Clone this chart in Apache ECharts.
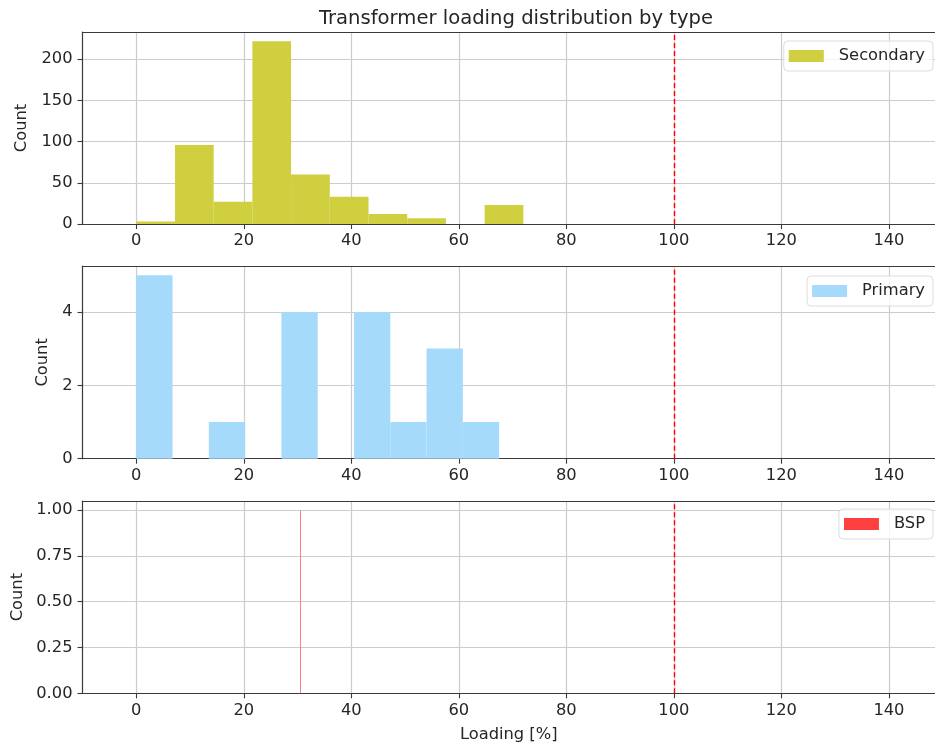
<!DOCTYPE html>
<html>
<head>
<meta charset="utf-8">
<script src="https://cdn.jsdelivr.net/npm/echarts@6/dist/echarts.min.js"></script>
<style>
html,body{margin:0;padding:0;background:#fff;}
#chart{width:935px;height:749px;}
</style>
</head>
<body>
<div id="chart"></div>
<script>
// ---- Data ----
const chartTitle = 'Transformer loading distribution by type';
const xAxisName = 'Loading [%]';
const yAxisName = 'Count';
const threshold = 100;

const secondaryEdges = [0, 7.2, 14.4, 21.6, 28.8, 36.0, 43.2, 50.4, 57.6, 64.8, 72.0];
const secondaryCounts = [3, 96, 27, 222, 60, 33, 12, 7, 0, 23];

const primaryEdges = [0, 6.75, 13.5, 20.25, 27.0, 33.75, 40.5, 47.25, 54.0, 60.75, 67.5];
const primaryCounts = [5, 0, 1, 0, 4, 0, 4, 1, 3, 1];

const bspEdges = [30.55, 30.65];
const bspCounts = [1];

const xTicks = [0, 20, 40, 60, 80, 100, 120, 140];
const yTicksSecondary = [0, 50, 100, 150, 200];
const yTicksPrimary = [0, 2, 4];
const yTicksBsp = [0, 0.25, 0.5, 0.75, 1.0];

const panelNames = ['Secondary', 'Primary', 'BSP'];
const panelColors = ['#cfcf40', '#a5dafb', '#ff4040'];

// ---- Build ----
function bins(edges, counts) {
  const out = [];
  for (let i = 0; i < counts.length; i++) out.push([edges[i], edges[i + 1], counts[i]]);
  return out;
}
const panelData = [
  bins(secondaryEdges, secondaryCounts),
  bins(primaryEdges, primaryCounts),
  bins(bspEdges, bspCounts)
];
const yMaxes = [Math.max(...secondaryCounts) * 1.05, Math.max(...primaryCounts) * 1.05, Math.max(...bspCounts) * 1.05];
const yTickSets = [yTicksSecondary, yTicksPrimary, yTicksBsp];
const yFormatters = [v => String(v), v => String(v), v => v.toFixed(2)];

const FONT = 'DejaVu Sans';
const FS = 16.3;
const TXT = '#262626';
const SPINE = '#3a3a3a';
const GRIDC = '#cccccc';
const X_MIN = -10, X_MAX = 148.57;

const grids = [
  {left: 82.5, right: 0, top: 32, height: 192},
  {left: 82.5, right: 0, top: 266, height: 192.7},
  {left: 82.5, right: 0, top: 501, height: 192.3}
].map(g => Object.assign(g, {show: false, containLabel: false}));

const nameGaps = [53, 29, 57];
const legendTops = [41, 276, 509];

const xAxes = [];
grids.forEach((g, i) => {
  xAxes.push({
    type: 'value', gridIndex: i, min: X_MIN, max: X_MAX, position: 'bottom',
    name: i === 2 ? xAxisName : '',
    nameLocation: 'middle', nameGap: 33,
    nameTextStyle: {fontFamily: FONT, fontSize: FS, color: TXT},
    axisLine: {show: true, onZero: false, lineStyle: {color: SPINE, width: 1.2}},
    axisTick: {show: true, length: 5, customValues: xTicks, lineStyle: {color: SPINE, width: 1.1}},
    axisLabel: {show: true, customValues: xTicks, margin: 9, fontFamily: FONT, fontSize: FS, color: TXT},
    splitLine: {show: true, lineStyle: {color: GRIDC, width: 1.2}}
  });
});
// top spines
grids.forEach((g, i) => {
  xAxes.push({
    type: 'value', gridIndex: i, min: X_MIN, max: X_MAX, position: 'top',
    axisLine: {show: true, onZero: false, lineStyle: {color: SPINE, width: 1.2}},
    axisTick: {show: false}, axisLabel: {show: false}, splitLine: {show: false}
  });
});

const yAxes = grids.map((g, i) => ({
  type: 'value', gridIndex: i, min: 0, max: yMaxes[i], position: 'left',
  name: yAxisName, nameLocation: 'middle', nameGap: nameGaps[i], nameRotate: 90,
  nameTextStyle: {fontFamily: FONT, fontSize: FS, color: TXT},
  axisLine: {show: true, onZero: false, lineStyle: {color: SPINE, width: 1.2}},
  axisTick: {show: true, length: 5, customValues: yTickSets[i], lineStyle: {color: SPINE, width: 1.1}},
  axisLabel: {show: true, customValues: yTickSets[i], margin: 10, fontFamily: FONT, fontSize: FS, color: TXT, formatter: yFormatters[i]},
  splitLine: {show: true, lineStyle: {color: GRIDC, width: 1.2}}
}));

const series = panelData.map((data, i) => ({
  name: panelNames[i],
  type: 'custom',
  xAxisIndex: i, yAxisIndex: i,
  itemStyle: {color: panelColors[i]},
  encode: {x: [0, 1], y: 2},
  data: data,
  renderItem: function (params, api) {
    const x0 = api.value(0), x1 = api.value(1), c = api.value(2);
    if (!c) return null;
    const p0 = api.coord([x0, 0]);
    const p1 = api.coord([x1, c]);
    let w = p1[0] - p0[0];
    let x = p0[0];
    if (w < 1) { x = Math.round(x + w / 2 - 0.5); w = 1; }
    return {
      type: 'rect',
      shape: {x: x, y: p1[1], width: w, height: p0[1] - p1[1]},
      style: {fill: i === 2 ? '#ff8080' : panelColors[i]}
    };
  },
  markLine: {
    silent: true, symbol: 'none', z: 10,
    label: {show: false},
    lineStyle: {color: '#ff0000', type: [5, 3], width: 1.4},
    data: [{xAxis: threshold}]
  },
  z: 2
}));

const legends = panelNames.map((n, i) => ({
  data: [n],
  right: 2, top: legendTops[i],
  orient: 'vertical',
  icon: 'rect', itemWidth: 35, itemHeight: 12,
  backgroundColor: 'rgba(255,255,255,0.8)',
  borderColor: '#dddddd', borderWidth: 1, borderRadius: 4,
  padding: [7, 8, 7, 5],
  selectedMode: false,
  textStyle: {fontFamily: FONT, fontSize: FS, color: TXT, padding: [0, 0, 0, 10]}
}));

const chart = echarts.init(document.getElementById('chart'), null, {renderer: 'canvas'});
chart.setOption({
  animation: false,
  backgroundColor: '#ffffff',
  title: {
    text: chartTitle, left: 511, top: 4, textAlign: 'center',
    textStyle: {fontFamily: FONT, fontSize: 19.6, fontWeight: 'normal', color: TXT}
  },
  legend: legends,
  grid: grids,
  xAxis: xAxes,
  yAxis: yAxes,
  series: series
});
</script>
</body>
</html>
